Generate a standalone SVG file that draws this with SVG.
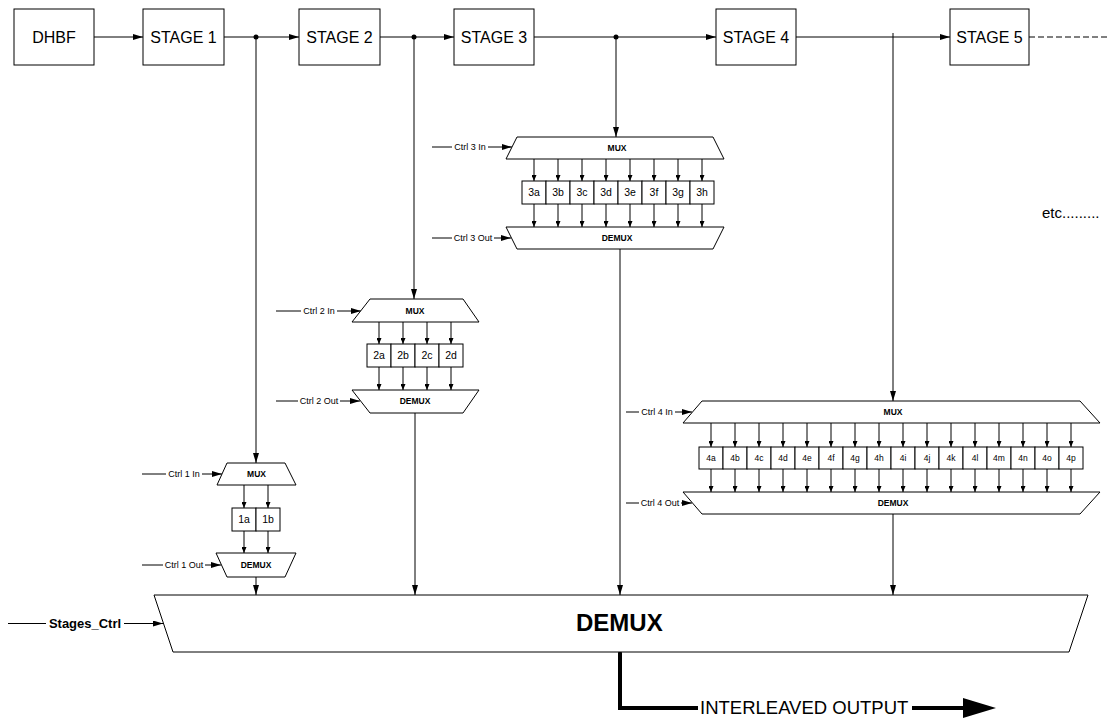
<svg xmlns="http://www.w3.org/2000/svg" width="1110" height="718" viewBox="0 0 1110 718">
<defs>
<marker id="a" markerUnits="userSpaceOnUse" markerWidth="10" markerHeight="6" refX="10" refY="3" orient="auto"><path d="M0,0 L10,3 L0,6 z" fill="#000"/></marker>
<marker id="s" markerUnits="userSpaceOnUse" markerWidth="6" markerHeight="5" refX="6" refY="2.5" orient="auto"><path d="M0,0 L6,2.5 L0,5 z" fill="#000"/></marker>
<style>
.box{fill:#fff;stroke:#000;stroke-width:1}
.ln{fill:none;stroke:#000;stroke-width:1}
.la{fill:none;stroke:#000;stroke-width:1;marker-end:url(#a)}
.ls{fill:none;stroke:#000;stroke-width:1;marker-end:url(#s)}
text{font-family:"Liberation Sans",Arial,sans-serif;fill:#000}
.big{font-size:16px;text-anchor:middle}
.mx{font-size:8.5px;font-weight:bold;text-anchor:middle}
.cell{font-size:10.5px;text-anchor:middle}
.cell4{font-size:8.5px;text-anchor:middle}
.ctrl{font-size:9px;text-anchor:middle}
</style>
</defs>
<rect width="1110" height="718" fill="#fff"/>

<g id="connectors">
<line class="la" x1="94" y1="37" x2="143" y2="37"/>
<line class="la" x1="224" y1="37" x2="299" y2="37"/>
<line class="la" x1="380" y1="37" x2="454" y2="37"/>
<line class="la" x1="534" y1="37" x2="716" y2="37"/>
<line class="la" x1="796" y1="37" x2="950" y2="37"/>
<line class="ln" x1="1029" y1="37" x2="1110" y2="37" stroke-dasharray="6,3"/>
<circle cx="256" cy="37" r="2.5" fill="#000"/>
<circle cx="414" cy="37" r="2.5" fill="#000"/>
<circle cx="616" cy="37" r="2.5" fill="#000"/>
<line class="la" x1="256" y1="37" x2="256" y2="463"/>
<line class="la" x1="414" y1="37" x2="414" y2="299"/>
<line class="la" x1="616" y1="37" x2="616" y2="137"/>
<line class="la" x1="893" y1="33" x2="893" y2="401"/>
<line class="la" x1="256" y1="577" x2="256" y2="595"/>
<line class="la" x1="415" y1="413" x2="415" y2="595"/>
<line class="la" x1="620" y1="249" x2="620" y2="595"/>
<line class="la" x1="893" y1="514" x2="893" y2="595"/>
<!-- ctrl lines -->
<line class="ln" x1="142" y1="474" x2="166" y2="474"/><line class="la" x1="202" y1="474" x2="222" y2="474"/>
<line class="ln" x1="142" y1="565" x2="163" y2="565"/><line class="la" x1="205" y1="565" x2="221" y2="565"/>
<line class="ln" x1="276" y1="311" x2="301" y2="311"/><line class="la" x1="337" y1="311" x2="361" y2="311"/>
<line class="ln" x1="276" y1="401" x2="298" y2="401"/><line class="la" x1="340" y1="401" x2="360" y2="401"/>
<line class="ln" x1="432" y1="147" x2="452" y2="147"/><line class="la" x1="488" y1="147" x2="512" y2="147"/>
<line class="ln" x1="432" y1="238" x2="452" y2="238"/><line class="la" x1="494" y1="238" x2="511" y2="238"/>
<line class="ln" x1="626" y1="412" x2="639" y2="412"/><line class="la" x1="675" y1="412" x2="692" y2="412"/>
<line class="ln" x1="626" y1="503" x2="639" y2="503"/><line class="la" x1="681" y1="503" x2="692" y2="503"/>
<line class="ln" x1="8" y1="623.5" x2="46" y2="623.5"/><line class="la" x1="124" y1="623.5" x2="163" y2="623.5"/>
<!-- stage 1 inner -->
<line class="ls" x1="244" y1="485" x2="244" y2="508"/>
<line class="ls" x1="268" y1="485" x2="268" y2="508"/>
<line class="ls" x1="244" y1="531" x2="244" y2="553"/>
<line class="ls" x1="268" y1="531" x2="268" y2="553"/>
<!-- stage 2 inner -->
<line class="ls" x1="379" y1="322" x2="379" y2="344"/>
<line class="ls" x1="403" y1="322" x2="403" y2="344"/>
<line class="ls" x1="427" y1="322" x2="427" y2="344"/>
<line class="ls" x1="451" y1="322" x2="451" y2="344"/>
<line class="ls" x1="379" y1="367" x2="379" y2="390"/>
<line class="ls" x1="403" y1="367" x2="403" y2="390"/>
<line class="ls" x1="427" y1="367" x2="427" y2="390"/>
<line class="ls" x1="451" y1="367" x2="451" y2="390"/>
<!-- stage 3 inner -->
<line class="ls" x1="534" y1="159" x2="534" y2="181"/>
<line class="ls" x1="558" y1="159" x2="558" y2="181"/>
<line class="ls" x1="582" y1="159" x2="582" y2="181"/>
<line class="ls" x1="606" y1="159" x2="606" y2="181"/>
<line class="ls" x1="630" y1="159" x2="630" y2="181"/>
<line class="ls" x1="654" y1="159" x2="654" y2="181"/>
<line class="ls" x1="678" y1="159" x2="678" y2="181"/>
<line class="ls" x1="702" y1="159" x2="702" y2="181"/>
<line class="ls" x1="534" y1="204" x2="534" y2="227"/>
<line class="ls" x1="558" y1="204" x2="558" y2="227"/>
<line class="ls" x1="582" y1="204" x2="582" y2="227"/>
<line class="ls" x1="606" y1="204" x2="606" y2="227"/>
<line class="ls" x1="630" y1="204" x2="630" y2="227"/>
<line class="ls" x1="654" y1="204" x2="654" y2="227"/>
<line class="ls" x1="678" y1="204" x2="678" y2="227"/>
<line class="ls" x1="702" y1="204" x2="702" y2="227"/>
<!-- stage 4 inner -->
<line class="ls" x1="711" y1="423" x2="711" y2="447"/>
<line class="ls" x1="735" y1="423" x2="735" y2="447"/>
<line class="ls" x1="759" y1="423" x2="759" y2="447"/>
<line class="ls" x1="783" y1="423" x2="783" y2="447"/>
<line class="ls" x1="807" y1="423" x2="807" y2="447"/>
<line class="ls" x1="831" y1="423" x2="831" y2="447"/>
<line class="ls" x1="855" y1="423" x2="855" y2="447"/>
<line class="ls" x1="879" y1="423" x2="879" y2="447"/>
<line class="ls" x1="903" y1="423" x2="903" y2="447"/>
<line class="ls" x1="927" y1="423" x2="927" y2="447"/>
<line class="ls" x1="951" y1="423" x2="951" y2="447"/>
<line class="ls" x1="975" y1="423" x2="975" y2="447"/>
<line class="ls" x1="999" y1="423" x2="999" y2="447"/>
<line class="ls" x1="1023" y1="423" x2="1023" y2="447"/>
<line class="ls" x1="1047" y1="423" x2="1047" y2="447"/>
<line class="ls" x1="1071" y1="423" x2="1071" y2="447"/>
<line class="ls" x1="711" y1="469" x2="711" y2="492"/>
<line class="ls" x1="735" y1="469" x2="735" y2="492"/>
<line class="ls" x1="759" y1="469" x2="759" y2="492"/>
<line class="ls" x1="783" y1="469" x2="783" y2="492"/>
<line class="ls" x1="807" y1="469" x2="807" y2="492"/>
<line class="ls" x1="831" y1="469" x2="831" y2="492"/>
<line class="ls" x1="855" y1="469" x2="855" y2="492"/>
<line class="ls" x1="879" y1="469" x2="879" y2="492"/>
<line class="ls" x1="903" y1="469" x2="903" y2="492"/>
<line class="ls" x1="927" y1="469" x2="927" y2="492"/>
<line class="ls" x1="951" y1="469" x2="951" y2="492"/>
<line class="ls" x1="975" y1="469" x2="975" y2="492"/>
<line class="ls" x1="999" y1="469" x2="999" y2="492"/>
<line class="ls" x1="1023" y1="469" x2="1023" y2="492"/>
<line class="ls" x1="1047" y1="469" x2="1047" y2="492"/>
<line class="ls" x1="1071" y1="469" x2="1071" y2="492"/>
<!-- output -->
<circle cx="620" cy="653" r="2" fill="#000"/>
<path d="M620,653 V708 H698" fill="none" stroke="#000" stroke-width="4"/>
<line x1="912" y1="708" x2="965" y2="708" stroke="#000" stroke-width="4"/>
<polygon points="963,698 996,708 963,718" fill="#000"/>
</g>

<g id="ctrl-labels">
<text class="ctrl" x="184" y="477">Ctrl 1 In</text>
<text class="ctrl" x="184" y="568">Ctrl 1 Out</text>
<text class="ctrl" x="319" y="314">Ctrl 2 In</text>
<text class="ctrl" x="319" y="404">Ctrl 2 Out</text>
<text class="ctrl" x="470" y="150">Ctrl 3 In</text>
<text class="ctrl" x="473" y="241">Ctrl 3 Out</text>
<text class="ctrl" x="657" y="415">Ctrl 4 In</text>
<text class="ctrl" x="660" y="506">Ctrl 4 Out</text>
<text x="85" y="628" font-size="13" font-weight="bold" text-anchor="middle">Stages_Ctrl</text>
<text x="700" y="714" font-size="18.5">INTERLEAVED OUTPUT</text>
<text x="1042" y="218" font-size="15">etc.........</text>
</g>

<g id="dhbf"><rect class="box" x="14" y="9" width="80" height="56"/><text class="big" x="54" y="43">DHBF</text></g>
<g id="stage1"><rect class="box" x="143" y="9" width="81" height="56"/><text class="big" x="183.5" y="43">STAGE 1</text></g>
<g id="stage2"><rect class="box" x="299" y="9" width="81" height="56"/><text class="big" x="339.5" y="43">STAGE 2</text></g>
<g id="stage3"><rect class="box" x="454" y="9" width="80" height="56"/><text class="big" x="494" y="43">STAGE 3</text></g>
<g id="stage4"><rect class="box" x="716" y="9" width="80" height="56"/><text class="big" x="756" y="43">STAGE 4</text></g>
<g id="stage5"><rect class="box" x="950" y="9" width="79" height="56"/><text class="big" x="989.5" y="43">STAGE 5</text></g>

<g id="mux1"><polygon class="box" points="227,463 285,463 296,485 217,485"/><text class="mx" x="256.5" y="477">MUX</text></g>
<g id="cells1">
<rect class="box" x="232" y="508" width="24" height="23"/><text class="cell" x="244" y="523">1a</text>
<rect class="box" x="256" y="508" width="24" height="23"/><text class="cell" x="268" y="523">1b</text>
</g>
<g id="demux1"><polygon class="box" points="216,553 296,553 285,577 227,577"/><text class="mx" x="256" y="568">DEMUX</text></g>

<g id="mux2"><polygon class="box" points="370,299 463,299 479,322 352,322"/><text class="mx" x="415" y="314">MUX</text></g>
<g id="cells2">
<rect class="box" x="367" y="344" width="24" height="23"/><text class="cell" x="379" y="359">2a</text>
<rect class="box" x="391" y="344" width="24" height="23"/><text class="cell" x="403" y="359">2b</text>
<rect class="box" x="415" y="344" width="24" height="23"/><text class="cell" x="427" y="359">2c</text>
<rect class="box" x="439" y="344" width="24" height="23"/><text class="cell" x="451" y="359">2d</text>
</g>
<g id="demux2"><polygon class="box" points="352,390 479,390 463,413 370,413"/><text class="mx" x="415" y="404">DEMUX</text></g>

<g id="mux3"><polygon class="box" points="517,137 713,137 724,159 506,159"/><text class="mx" x="617" y="151">MUX</text></g>
<g id="cells3">
<rect class="box" x="522" y="181" width="24" height="23"/><text class="cell" x="534" y="196">3a</text>
<rect class="box" x="546" y="181" width="24" height="23"/><text class="cell" x="558" y="196">3b</text>
<rect class="box" x="570" y="181" width="24" height="23"/><text class="cell" x="582" y="196">3c</text>
<rect class="box" x="594" y="181" width="24" height="23"/><text class="cell" x="606" y="196">3d</text>
<rect class="box" x="618" y="181" width="24" height="23"/><text class="cell" x="630" y="196">3e</text>
<rect class="box" x="642" y="181" width="24" height="23"/><text class="cell" x="654" y="196">3f</text>
<rect class="box" x="666" y="181" width="24" height="23"/><text class="cell" x="678" y="196">3g</text>
<rect class="box" x="690" y="181" width="24" height="23"/><text class="cell" x="702" y="196">3h</text>
</g>
<g id="demux3"><polygon class="box" points="506,227 724,227 713,249 517,249"/><text class="mx" x="617" y="241">DEMUX</text></g>

<g id="mux4"><polygon class="box" points="702,401 1080,401 1100,423 683,423"/><text class="mx" x="893" y="415">MUX</text></g>
<g id="cells4">
<rect class="box" x="699" y="447" width="24" height="22"/><text class="cell4" x="711" y="461">4a</text>
<rect class="box" x="723" y="447" width="24" height="22"/><text class="cell4" x="735" y="461">4b</text>
<rect class="box" x="747" y="447" width="24" height="22"/><text class="cell4" x="759" y="461">4c</text>
<rect class="box" x="771" y="447" width="24" height="22"/><text class="cell4" x="783" y="461">4d</text>
<rect class="box" x="795" y="447" width="24" height="22"/><text class="cell4" x="807" y="461">4e</text>
<rect class="box" x="819" y="447" width="24" height="22"/><text class="cell4" x="831" y="461">4f</text>
<rect class="box" x="843" y="447" width="24" height="22"/><text class="cell4" x="855" y="461">4g</text>
<rect class="box" x="867" y="447" width="24" height="22"/><text class="cell4" x="879" y="461">4h</text>
<rect class="box" x="891" y="447" width="24" height="22"/><text class="cell4" x="903" y="461">4i</text>
<rect class="box" x="915" y="447" width="24" height="22"/><text class="cell4" x="927" y="461">4j</text>
<rect class="box" x="939" y="447" width="24" height="22"/><text class="cell4" x="951" y="461">4k</text>
<rect class="box" x="963" y="447" width="24" height="22"/><text class="cell4" x="975" y="461">4l</text>
<rect class="box" x="987" y="447" width="24" height="22"/><text class="cell4" x="999" y="461">4m</text>
<rect class="box" x="1011" y="447" width="24" height="22"/><text class="cell4" x="1023" y="461">4n</text>
<rect class="box" x="1035" y="447" width="24" height="22"/><text class="cell4" x="1047" y="461">4o</text>
<rect class="box" x="1059" y="447" width="24" height="22"/><text class="cell4" x="1071" y="461">4p</text>
</g>
<g id="demux4"><polygon class="box" points="683,492 1100,492 1080,514 702,514"/><text class="mx" x="893" y="506">DEMUX</text></g>

<g id="main-demux"><polygon class="box" points="154,595 1088,595 1069,652 173,652"/><text x="576" y="631" font-size="24" font-weight="bold">DEMUX</text></g>
</svg>
